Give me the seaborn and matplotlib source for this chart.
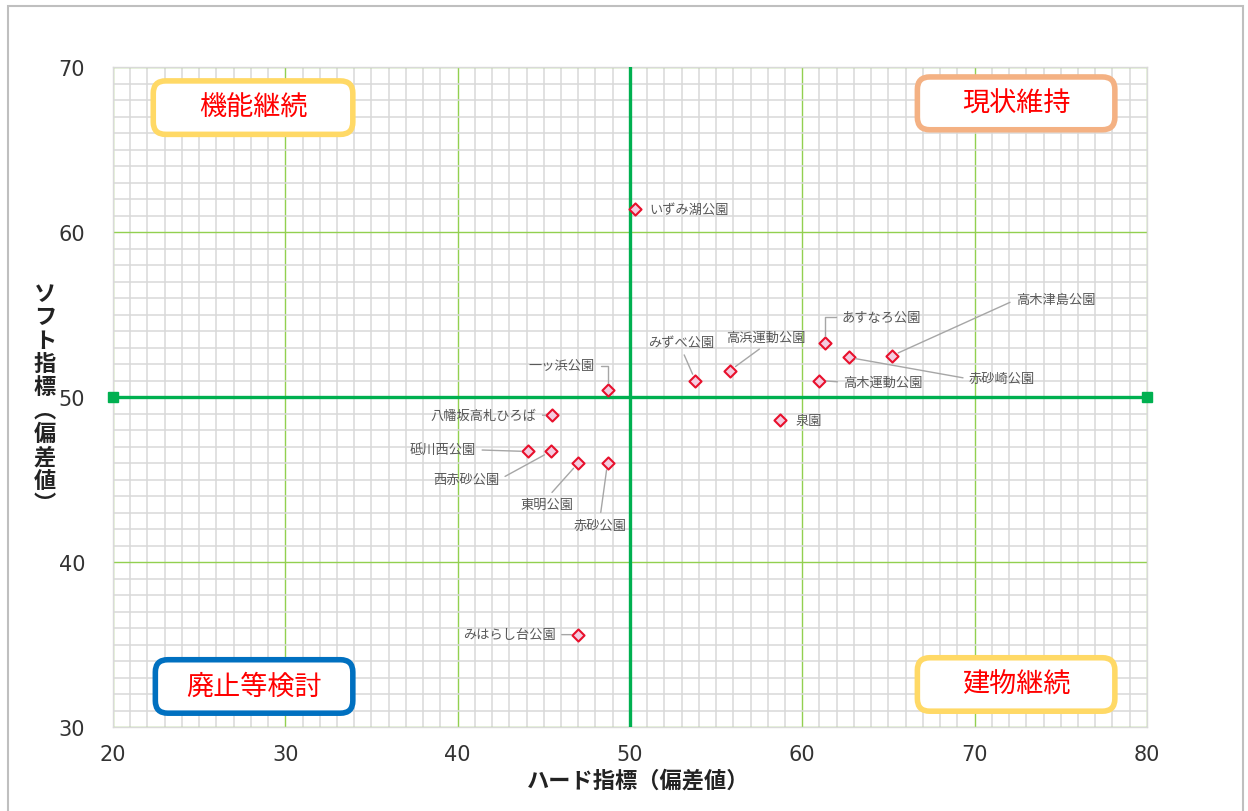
import matplotlib

matplotlib.use("Agg")
import matplotlib.pyplot as plt
import pandas as pd
import seaborn as sns
from matplotlib.patches import FancyBboxPatch, Rectangle
from matplotlib.ticker import MultipleLocator

# park data: hard index (x) / soft index (y)
parks = [
    "いずみ湖公園", "一ッ浜公園", "みずべ公園", "高浜運動公園", "あすなろ公園",
    "赤砂崎公園", "高木津島公園", "高木運動公園", "泉園", "八幡坂高札ひろば",
    "砥川西公園", "西赤砂公園", "東明公園", "赤砂公園", "みはらし台公園",
]
hard = [50.3, 48.7, 53.8, 55.8, 61.3, 62.7, 65.2, 61.0, 58.7, 45.5, 44.1, 45.4, 47.0, 48.7, 47.0]
soft = [61.4, 50.4, 51.0, 51.6, 53.3, 52.4, 52.5, 51.0, 48.6, 48.9, 46.7, 46.7, 46.0, 46.0, 35.6]

x_ticks = [20, 30, 40, 50, 60, 70, 80]
y_ticks = [30, 40, 50, 60, 70]
center_x = 50
center_y = 50

quadrants = ["機能継続", "現状維持", "廃止等検討", "建物継続"]

# label placement (data coords), text alignment, leader start on text bbox
label_layout = {
    "いずみ湖公園": ((51.1, 61.4), "left", None),
    "一ッ浜公園": ((46.05, 51.9), "center", ((1, 0.5), "angle,angleA=0,angleB=90,rad=0")),
    "みずべ公園": ((53.0, 53.3), "center", ((0.5, 0), "arc3")),
    "高浜運動公園": ((57.9, 53.6), "center", ((0.5, 0), "arc3")),
    "あすなろ公園": ((64.6, 54.85), "center", ((0, 0.5), "angle,angleA=180,angleB=90,rad=0")),
    "赤砂崎公園": ((71.6, 51.1), "center", ((0, 0.5), "arc3")),
    "高木津島公園": ((74.7, 55.9), "center", ((0, 0.5), "arc3")),
    "高木運動公園": ((64.7, 50.9), "center", ((0, 0.5), "arc3")),
    "泉園": ((60.4, 48.6), "center", None),
    "八幡坂高札ひろば": ((41.5, 48.9), "center", ((1, 0.5), "arc3")),
    "砥川西公園": ((39.15, 46.8), "center", ((1, 0.5), "arc3")),
    "西赤砂公園": ((40.5, 45.0), "center", ((1, 0.5), "arc3")),
    "東明公園": ((45.2, 43.5), "center", ((0.5, 1), "arc3")),
    "赤砂公園": ((48.26, 42.25), "center", ((0.5, 1), "arc3")),
    "みはらし台公園": ((43.0, 35.6), "center", ((1, 0.5), "arc3")),
}

# quadrant boxes in axes fraction: (x0, y0, x1, y1), border colour
quad_layout = {
    "機能継続": ((0.039, 0.898, 0.232, 0.979), "#FFD966"),
    "現状維持": ((0.778, 0.905, 0.969, 0.985), "#F4B183"),
    "廃止等検討": ((0.041, 0.021, 0.232, 0.102), "#0070C0"),
    "建物継続": ((0.778, 0.024, 0.969, 0.105), "#FFD966"),
}

sns.set_theme(style="white")
plt.rcParams["font.family"] = ["Noto Sans CJK JP", "DejaVu Sans"]

df = pd.DataFrame({"park": parks, "hard": hard, "soft": soft})

fig = plt.figure(figsize=(12.48, 8.12), dpi=100)
ax = fig.add_axes([0.0905, 0.1034, 0.8285, 0.8128])

ax.set_xlim(x_ticks[0], x_ticks[-1])
ax.set_ylim(y_ticks[0], y_ticks[-1])
ax.xaxis.set_major_locator(MultipleLocator(10))
ax.yaxis.set_major_locator(MultipleLocator(10))
ax.xaxis.set_minor_locator(MultipleLocator(1))
ax.yaxis.set_minor_locator(MultipleLocator(1))
ax.grid(which="minor", color="#D9D9D9", linewidth=1.1, zorder=0)
ax.grid(which="major", color="#92D050", linewidth=1.0, zorder=0.5)
ax.set_axisbelow(True)
for sp in ax.spines.values():
    sp.set_color("#D9D9D9")
    sp.set_linewidth(1.0)

ax.tick_params(axis="both", which="both", length=0, labelsize=15, labelcolor="#333333")
ax.tick_params(axis="x", pad=12)
ax.tick_params(axis="y", pad=20)
ax.set_xticks(x_ticks)
ax.set_yticks(y_ticks)
for t in ax.get_xticklabels() + ax.get_yticklabels():
    t.set_family("DejaVu Sans")

# centre cross lines
ax.axvline(center_x, color="#00B050", linewidth=2.4, zorder=3)
ax.plot([x_ticks[0], x_ticks[-1]], [center_y, center_y], color="#00B050", linewidth=2.4,
        marker="s", markersize=7, zorder=3, clip_on=False)

sns.scatterplot(data=df, x="hard", y="soft", marker="D", s=38, color="#F4CCE0",
                edgecolor="#E8112D", linewidth=1.5, ax=ax, zorder=4, legend=False)

for name, hx, sy in zip(parks, hard, soft):
    (tx, ty), ha, leader = label_layout[name]
    if leader is None:
        ax.text(tx, ty, name, ha=ha, va="center", fontsize=9.5, color="#595959", zorder=5)
        continue
    relpos, conn = leader
    ax.annotate(name, xy=(hx, sy), xytext=(tx, ty), ha=ha, va="center",
                fontsize=9.5, color="#595959", zorder=5,
                arrowprops=dict(arrowstyle="-", color="#A6A6A6", linewidth=1.0,
                                shrinkA=2, shrinkB=5, relpos=relpos, connectionstyle=conn))

for name in quadrants:
    (x0, y0, x1, y1), edge = quad_layout[name]
    box = FancyBboxPatch((x0, y0), x1 - x0, y1 - y0, transform=ax.transAxes,
                         boxstyle="round,pad=0,rounding_size=0.012", mutation_aspect=1034 / 660,
                         facecolor="white", edgecolor=edge, linewidth=4.0, zorder=6)
    ax.add_patch(box)
    ax.text((x0 + x1) / 2, (y0 + y1) / 2, name, transform=ax.transAxes, ha="center",
            va="center", fontsize=19.5, color="#FF0000", zorder=7)

ax.set_xlabel("")
ax.set_ylabel("")
fig.text(0.511, 0.038, "ハード指標（偏差値）", ha="center", va="center",
         fontsize=16, fontweight="bold", color="#222222")
fig.text(0.036, 0.508, "\n".join("ソフト指標︵偏差値︶"), ha="center", va="center",
         fontsize=16, fontweight="bold", color="#222222", linespacing=1.02)

fig.patches.append(Rectangle((8 / 1248, -0.02), 1235 / 1248, 1.02 - 7 / 812,
                             transform=fig.transFigure, fill=False, edgecolor="#BFBFBF",
                             linewidth=1.5))

fig.savefig("out.png", dpi=100)
